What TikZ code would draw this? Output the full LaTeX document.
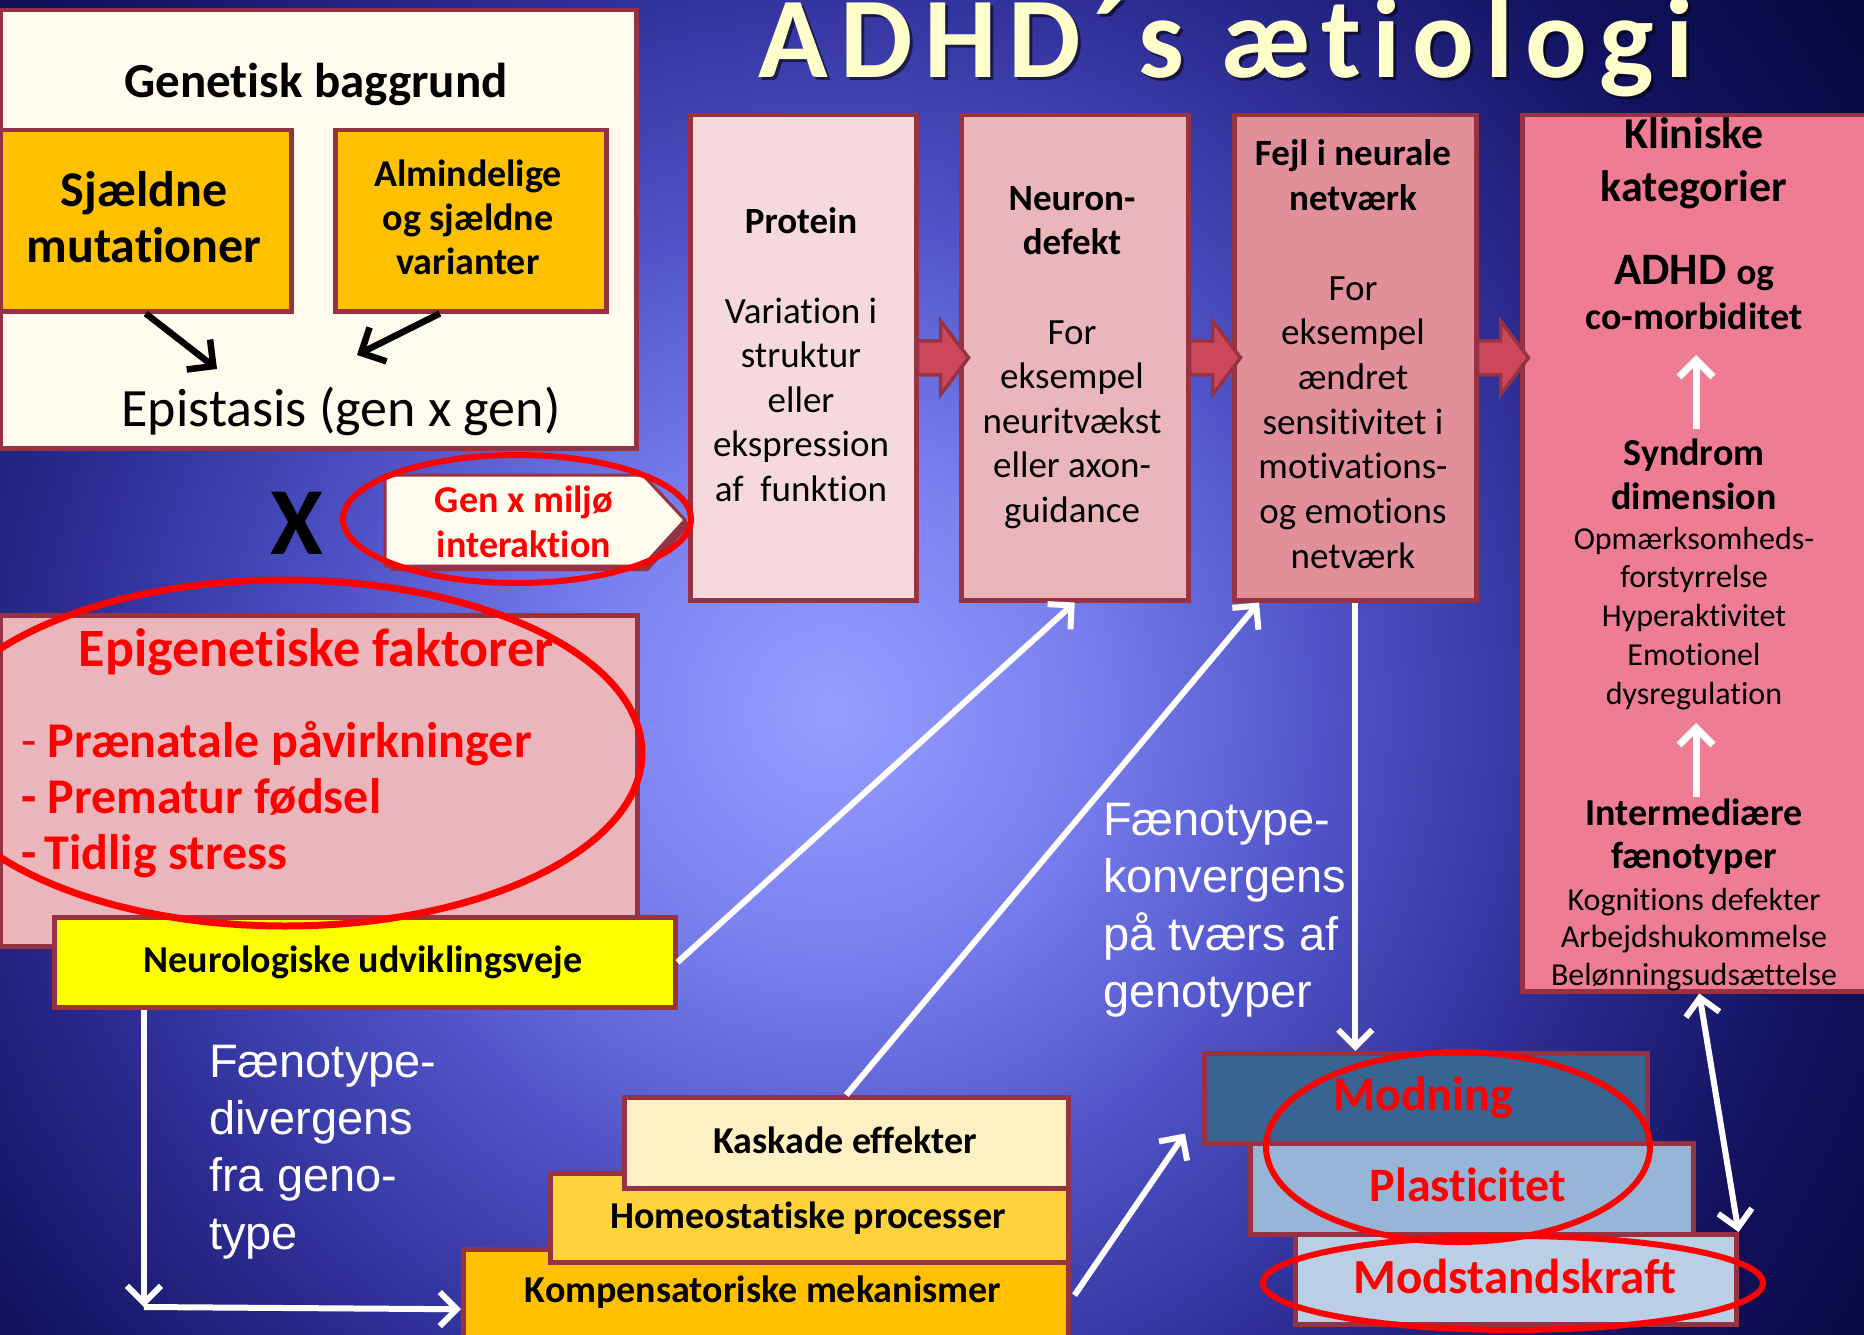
\documentclass[tikz,border=0pt]{standalone}
\usepackage{fontspec}
\setmainfont[Ligatures=NoCommon]{Carlito}
\newfontfamily\arialf{Liberation Sans}
\newfontfamily\titlefont[LetterSpace=10,Ligatures=NoCommon]{Carlito}
\usetikzlibrary{arrows.meta,calc}

% palette
\definecolor{bg0}{RGB}{150,158,255}
\definecolor{bg1}{RGB}{124,130,240}
\definecolor{bg2}{RGB}{80,84,200}
\definecolor{bg3}{RGB}{46,46,150}
\definecolor{bg4}{RGB}{18,18,95}
\definecolor{bg5}{RGB}{5,5,55}
\definecolor{bordercol}{RGB}{150,50,66}
\definecolor{cream}{RGB}{255,252,238}
\definecolor{amber}{RGB}{255,192,0}
\definecolor{protcol}{RGB}{245,217,221}
\definecolor{neurcol}{RGB}{234,181,187}
\definecolor{fejlcol}{RGB}{225,143,152}
\definecolor{klincol}{RGB}{238,125,147}
\definecolor{yel}{RGB}{255,255,0}
\definecolor{kaskcol}{RGB}{255,240,196}
\definecolor{homeocol}{RGB}{255,211,62}
\definecolor{modncol}{RGB}{56,100,146}
\definecolor{plastcol}{RGB}{150,181,215}
\definecolor{modstcol}{RGB}{186,206,229}
\definecolor{arrowfill}{RGB}{205,71,90}
\definecolor{titlecol}{RGB}{255,255,204}

% the path's circle corresponds to 25bp of the shading
\pgfdeclareradialshading{bgshade}{\pgfpoint{0bp}{0bp}}{color(0bp)=(bg0); color(4.5bp)=(bg1); color(9.5bp)=(bg2); color(14.5bp)=(bg3); color(19.5bp)=(bg4); color(25bp)=(bg5); color(50bp)=(bg5)}

\newcommand\fs[1]{\fontsize{#1}{#1}\selectfont}
% a column of text lines: style, name prefix, x, first baseline, line step, lines
\newcommand\textlines[6]{\foreach \lntxt [count=\k] in {#6}{\node[#1] (#2\k) at (#3,{#4+(\k-1)*(#5)}) {\lntxt};}}
% block arrow leaving the east side of a box
\newcommand\blockarrow[1]{\draw[barrow] ($(#1.east)+(-1,-17)$) -- ++(23,0) -- ++(0,-20) -- ++(28,37) -- ++(-28,37) -- ++(0,-20) -- ++(-23,0) -- cycle;}

\tikzset{
  box/.style={draw=bordercol, line width=4.5pt, inner sep=0pt, anchor=north west},
  lbl/.style={anchor=base, inner sep=0pt, text=black},
  wharrow/.style={draw=white, line width=6pt, -{Straight Barb[length=17pt,width=34pt]}},
  blarrow/.style={draw=black, line width=6.5pt, -{Straight Barb[length=19pt,width=38pt]}},
  ring/.style={draw=red, line width=6pt},
  barrow/.style={fill=arrowfill, draw=bordercol, line width=3.5pt, line join=miter},
}

\begin{document}
\begin{tikzpicture}[x=1pt,y=-1pt]
% background
\fill[bg5] (0,0) rectangle (1864,1335);
\begin{scope}
  \clip (0,0) rectangle (1864,1335);
  \shade[shading=bgshade] (830,710) circle [radius=1300];
\end{scope}

% title
\node[anchor=base, text=black, opacity=0.55, font=\titlefont\bfseries\fs{115}] (titleshadow) at (1229,81) {ADHD´s ætiologi};
\node[anchor=base, text=titlecol, font=\titlefont\bfseries\fs{115}] (title) at (1226,78) {ADHD´s ætiologi};

% genetic background
\node[box, fill=cream, minimum width=636, minimum height=438] (gen) at (-2,8) {};
\node[lbl, font=\bfseries\fs{49}] (genT) at (316,98) {Genetisk baggrund};
\node[box, fill=amber, minimum width=291, minimum height=181] (sjael) at (-2,128) {};
\textlines{lbl,font=\bfseries\fs{50}}{sj}{144}{206}{56}{Sjældne,mutationer}
\node[box, fill=amber, minimum width=271, minimum height=181] (alm) at (333,128) {};
\textlines{lbl,font=\bfseries\fs{38}}{al}{468}{186}{44}{Almindelige,og sjældne,varianter}
\node[lbl, font=\fs{54}] (epis) at (341,426) {Epistasis (gen x gen)};
\coordinate (ep1) at (217,369);
\coordinate (ep2) at (357,355);
\draw[blarrow] (sjael.south) -- (ep1);
\draw[blarrow] ($(alm.south)+(-31,0)$) -- (ep2);

% chain of boxes
\node[box, fill=protcol, minimum width=226, minimum height=485] (prot) at (688,113) {};
\node[lbl, font=\bfseries\fs{37}] (protH) at (801,233) {Protein};
\textlines{lbl,font=\fs{37}}{pr}{801}{323}{44.6}{Variation i,struktur,eller,ekspression,af~~funktion}

\node[box, fill=neurcol, minimum width=227, minimum height=485] (neur) at (959,113) {};
\textlines{lbl,font=\bfseries\fs{37}}{nh}{1072}{210.5}{44}{Neuron-,defekt}
\textlines{lbl,font=\fs{37}}{nb}{1072}{344}{44.5}{For,eksempel,neuritvækst,eller axon-,guidance}

\node[box, fill=fejlcol, minimum width=242, minimum height=485] (fejl) at (1232,113) {};
\textlines{lbl,font=\bfseries\fs{37}}{fh}{1353}{166}{44}{Fejl i neurale,netværk}
\textlines{lbl,font=\fs{37}}{fb}{1353}{300}{44.7}{For,eksempel,ændret,sensitivitet i,motivations-,og emotions,netværk}

\node[box, fill=klincol, minimum width=354, minimum height=876] (klin) at (1520,113) {};
\textlines{lbl,font=\bfseries\fs{44}}{kh}{1694}{149}{52}{Kliniske,kategorier}
\node[lbl, font=\bfseries\fs{45}] (adhd) at (1694,284) {ADHD {\fs{37}og}};
\node[lbl, font=\bfseries\fs{38}] (comorb) at (1694,329) {co-morbiditet};
\textlines{lbl,font=\bfseries\fs{38}}{sy}{1694}{465}{44}{Syndrom,dimension}
\textlines{lbl,font=\fs{32}}{sd}{1694}{549}{38.8}{Opmærksomheds-,forstyrrelse,Hyperaktivitet,Emotionel,dysregulation}
\textlines{lbl,font=\bfseries\fs{38}}{im}{1694}{825}{43}{Intermediære,fænotyper}
\textlines{lbl,font=\fs{32}}{ik}{1694}{910}{37.5}{Kognitions defekter,Arbejdshukommelse,Belønningsudsættelse}
\coordinate (k1a) at (1696,429);
\coordinate (k1b) at (1696,355);
\coordinate (k2a) at (1696,797);
\coordinate (k2b) at (1696,723);
\draw[wharrow, line width=7pt] (k1a) -- (k1b);
\draw[wharrow, line width=7pt] (k2a) -- (k2b);

\blockarrow{prot}
\blockarrow{neur}
\blockarrow{fejl}

% gene x environment
\fill[bordercol] (390,480) -- (648,480) -- (690,525) -- (648,571) -- (390,571) -- cycle;
\draw[fill=cream, draw=bordercol, line width=3pt] (385,475) -- (643,475) -- (685,520) -- (643,566) -- (385,566) -- cycle;
\textlines{lbl,font=\bfseries\fs{38},text=red}{gx}{524}{512}{45}{Gen x miljø,interaktion}
\node[lbl, font=\bfseries\fs{96}] (xmark) at (297,554) {X};

% epigenetics
\node[box, fill=neurcol, minimum width=637, minimum height=331] (epi) at (-2,613) {};
\node[lbl, font=\bfseries\fs{54}, text=red] (epiH) at (316,666) {Epigenetiske faktorer};
\textlines{lbl,anchor=base west,font=\bfseries\fs{50},text=red}{epl}{21}{757}{56}{\textmd{-} Prænatale påvirkninger,- Prematur fødsel,-\,Tidlig stress}

\node[box, fill=yel, minimum width=621, minimum height=90] (neuro) at (52,915) {};
\node[lbl, font=\bfseries\fs{38}] (neuroT) at (363,972) {Neurologiske udviklingsveje};

% compensation stack
\node[box, fill=amber, minimum width=605, minimum height=120] (komp) at (461,1247) {};
\node[lbl, font=\bfseries\fs{38}] (kompT) at (763,1302) {Kompensatoriske mekanismer};
\node[box, fill=homeocol, minimum width=518, minimum height=89] (homeo) at (548,1171) {};
\node[lbl, font=\bfseries\fs{38}] (homeoT) at (808,1228) {Homeostatiske processer};
\node[box, fill=kaskcol, minimum width=444, minimum height=91] (kask) at (622,1095) {};
\node[lbl, font=\bfseries\fs{38}] (kaskT) at (845,1153) {Kaskade effekter};

% maturation stack
\node[box, fill=modncol, minimum width=443, minimum height=90] (modn) at (1202,1051) {};
\node[box, fill=plastcol, minimum width=443, minimum height=91] (plast) at (1248,1141) {};
\node[box, fill=modstcol, minimum width=441, minimum height=90] (modst) at (1293,1232) {};
\node[lbl, font=\bfseries\fs{48}, text=red] (modnT) at (1423,1110) {Modning};
\node[lbl, font=\bfseries\fs{48}, text=red] (plastT) at (1468,1201) {Plasticitet};
\node[lbl, font=\bfseries\fs{49}, text=red] (modstT) at (1515,1293) {Modstandskraft};

% white captions
\textlines{lbl,anchor=base west,font=\arialf\fs{47},text=white}{dv}{209}{1077}{57.4}{Fænotype-,divergens,fra geno-,type}
\textlines{lbl,anchor=base west,font=\arialf\fs{47},text=white}{kv}{1103}{835}{57.5}{Fænotype-,konvergens,på tværs af,genotyper}

% connectors
\draw[wharrow] (neuro.east) -- (neur.south);
\draw[wharrow] (kask.north) -- ($(fejl.south west)+(27,0)$);
\draw[wharrow] (fejl.south) -- (fejl.south |- modn.north);
\coordinate (corner) at (144,1307);
\draw[wharrow] ($(neuro.south west)+(92,0)$) -- (corner);
\draw[wharrow] (corner) -- (komp.west);
\draw[wharrow] ($(komp.east)+(4,-14)$) -- ($(modn.south west)+(-17,-12)$);
\draw[wharrow, {Straight Barb[length=17pt,width=34pt]}-{Straight Barb[length=17pt,width=34pt]}] (klin.south) -- (modst.north east);

% red highlight rings
\draw[ring] (517,519) ellipse [x radius=174, y radius=64];
\draw[ring, line width=7pt] (285,753) ellipse [x radius=357, y radius=173];
\draw[ring] (1458,1147) ellipse [x radius=192, y radius=95];
\draw[ring] (1513,1283) ellipse [x radius=250, y radius=47];

\pgfresetboundingbox
\useasboundingbox (0,0) rectangle (1864,1335);
\end{tikzpicture}
\end{document}
